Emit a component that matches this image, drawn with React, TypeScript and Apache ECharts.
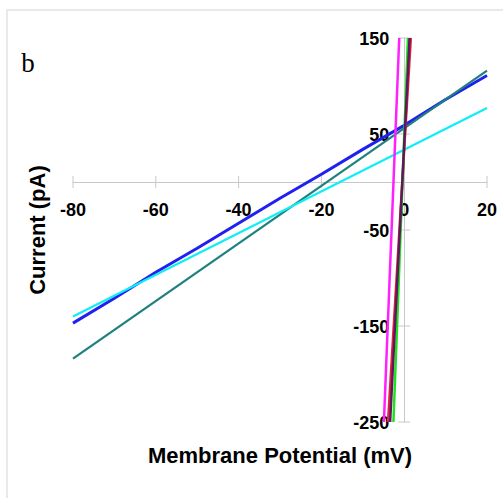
import React, { useEffect, useRef } from "react";
import * as echarts from "echarts";

// Axis ranges and ticks
const xMin = -80;
const xMax = 20;
const xInterval = 20;
const yMin = -250;
const yMax = 150;
const yInterval = 100;
const xTickValues = [-80, -60, -40, -20, 0, 20];
const yTickValues = [-250, -150, -50, 50, 150];

// Series (membrane potential in mV, current in pA)
const blueVoltage = [-80, -70, -60, -50, -40, -30, -20, -10, 0, 10, 20];
const blueCurrent = [-147, -121, -94, -69, -43, -17, 8, 34, 59, 86, 111];
const tealVoltage = [-80, 20];
const tealCurrent = [-184, 116];
const cyanVoltage = [-80, 20];
const cyanCurrent = [-140, 77];
const redVoltage = [-3.9, 1.6];
const redCurrent = [-250, 150];
const greenVoltage = [-2.6, 0.9];
const greenCurrent = [-250, 150];
const purpleVoltage = [-3.4, 1.3];
const purpleCurrent = [-250, 150];
const magentaVoltage = [-4.9, -1.2];
const magentaCurrent = [-250, 150];

const pairs = (xs: number[], ys: number[]) => xs.map((x, i) => [x, ys[i]]);

const FONT = "'Liberation Sans', Arial, Helvetica, sans-serif";
const AXIS_GRAY = "#c8c8c8";

export default function App() {
  const ref = useRef<HTMLDivElement>(null);
  useEffect(() => {
    if (!ref.current) return;
    const chart = echarts.init(ref.current, undefined, { renderer: "svg" });
    const line = (name: string, data: number[][], color: string, width: number) => ({
      name,
      type: "line",
      data,
      showSymbol: false,
      symbol: "none",
      lineStyle: { color, width },
      itemStyle: { color },
      z: 3,
    });
    // crossing tick marks plus the tick labels placed next to the zero-crossing axes
    const tickSeries = (values: number[], dir: "x" | "y") => ({
      type: "custom",
      silent: true,
      z: 2,
      clip: false,
      data: values.map((v) => [v]),
      renderItem: (_params: any, api: any) => {
        const v = api.value(0);
        const p = dir === "x" ? api.coord([v, 0]) : api.coord([0, v]);
        const tick =
          dir === "x"
            ? { x1: p[0], y1: p[1] - 6, x2: p[0], y2: p[1] + 6 }
            : { x1: p[0] - 6, y1: p[1], x2: p[0] + 6, y2: p[1] };
        const tx = dir === "x" ? p[0] : p[0] - 15;
        const ty = dir === "x" ? p[1] + 28 : p[1] + 1;
        const align = dir === "x" ? "center" : "right";
        return {
          type: "group",
          children: [
            { type: "line", shape: tick, style: { stroke: AXIS_GRAY, lineWidth: 1 }, z2: 0 },
            {
              type: "text",
              x: tx,
              y: ty,
              z2: 10,
              style: {
                text: String(v),
                fontSize: 18,
                fontWeight: "bold",
                fontFamily: FONT,
                fill: "#000",
                textAlign: align,
                textVerticalAlign: "middle",
                align,
                verticalAlign: "middle",
              },
            },
          ],
        };
      },
    });
    chart.setOption({
      animation: false,
      backgroundColor: "#fff",
      grid: { left: 73, right: 16, top: 38, bottom: 76, containLabel: false },
      xAxis: {
        type: "value",
        min: xMin,
        max: xMax,
        interval: xInterval,
        axisLine: { show: true, onZero: true, lineStyle: { color: AXIS_GRAY, width: 1 } },
        axisTick: { show: false },
        axisLabel: { show: false },
        splitLine: { show: false },
      },
      yAxis: {
        type: "value",
        min: yMin,
        max: yMax,
        interval: yInterval,
        axisLine: { show: true, onZero: true, lineStyle: { color: AXIS_GRAY, width: 1 } },
        axisTick: { show: false },
        axisLabel: { show: false },
        splitLine: { show: false },
      },
      graphic: [
        {
          type: "rect",
          shape: { x: 7, y: 10, width: 600, height: 600 },
          style: { fill: "none", stroke: "#e2e2e2", lineWidth: 1.5 },
          silent: true,
          z: -10,
        },
        {
          type: "text",
          x: 28,
          y: 63,
          style: {
            text: "b",
            fontSize: 27,
            fontFamily: "'Liberation Serif', 'Times New Roman', serif",
            fill: "#000",
            textAlign: "center",
            textVerticalAlign: "middle",
            align: "center",
            verticalAlign: "middle",
          },
        },
        {
          type: "text",
          x: 280,
          y: 455,
          style: {
            text: "Membrane Potential (mV)",
            fontSize: 22,
            fontWeight: "bold",
            fontFamily: FONT,
            fill: "#000",
            textAlign: "center",
            textVerticalAlign: "middle",
            align: "center",
            verticalAlign: "middle",
          },
        },
        {
          type: "text",
          x: 37,
          y: 230,
          rotation: Math.PI / 2,
          style: {
            text: "Current (pA)",
            fontSize: 22,
            fontWeight: "bold",
            fontFamily: FONT,
            fill: "#000",
            textAlign: "center",
            textVerticalAlign: "middle",
            align: "center",
            verticalAlign: "middle",
          },
        },
      ],
      series: [
        tickSeries(xTickValues, "x"),
        tickSeries(yTickValues, "y"),
        line("blue", pairs(blueVoltage, blueCurrent), "#2020f0", 3),
        line("teal", pairs(tealVoltage, tealCurrent), "#1f8080", 2.2),
        line("cyan", pairs(cyanVoltage, cyanCurrent), "#10eef5", 2.2),
        line("red", pairs(redVoltage, redCurrent), "#e8203c", 2.5),
        line("green", pairs(greenVoltage, greenCurrent), "#20e020", 2.5),
        line("purple", pairs(purpleVoltage, purpleCurrent), "#5c1a5c", 2.5),
        line("magenta", pairs(magentaVoltage, magentaCurrent), "#ff20ff", 2.5),
      ],
    });
    return () => chart.dispose();
  }, []);
  return (
    <div
      ref={ref}
      style={{ position: "absolute", left: 0, top: 0, width: 503, height: 498 }}
    />
  );
}
